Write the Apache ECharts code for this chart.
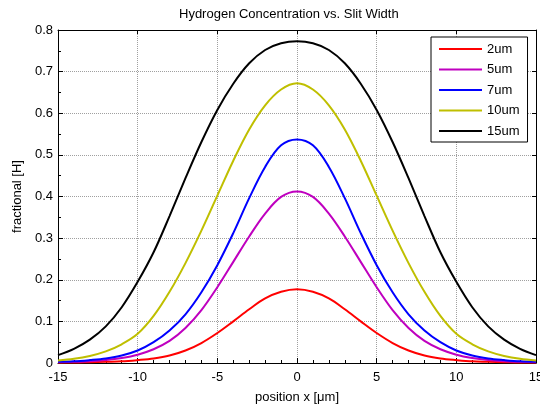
<!DOCTYPE html>
<html>
<head>
<meta charset="utf-8">
<script src="https://cdn.jsdelivr.net/npm/echarts@6/dist/echarts.min.js"></script>
<style>html,body{margin:0;padding:0;background:#fff}#c{width:540px;height:408px}</style>
</head>
<body>
<div id="c"></div>
<script>
const xs = [-15,-14,-13,-12,-11,-10,-9,-8,-7,-6,-5,-4,-3,-2,-1,0,1,2,3,4,5,6,7,8,9,10,11,12,13,14,15];
const seriesNames = ['2um','5um','7um','10um','15um'];
const seriesColors = ['#ff0000','#bf00bf','#0000ff','#bfbf00','#000000'];
const w2um = [0.001,0.001,0.002,0.003,0.004,0.007,0.011,0.018,0.030,0.048,0.072,0.100,0.129,0.155,0.171,0.177,0.171,0.155,0.129,0.100,0.072,0.048,0.030,0.018,0.011,0.007,0.004,0.003,0.002,0.001,0.001];
const w5um = [0.002,0.003,0.004,0.007,0.012,0.020,0.033,0.053,0.084,0.127,0.182,0.243,0.304,0.359,0.399,0.412,0.399,0.359,0.304,0.243,0.182,0.127,0.084,0.053,0.033,0.020,0.012,0.007,0.004,0.003,0.002];
const w7um = [0.003,0.004,0.007,0.011,0.018,0.030,0.050,0.078,0.117,0.170,0.235,0.312,0.396,0.471,0.523,0.537,0.523,0.471,0.396,0.312,0.235,0.170,0.117,0.078,0.050,0.030,0.018,0.011,0.007,0.004,0.003];
const w10um = [0.006,0.010,0.017,0.028,0.045,0.070,0.113,0.171,0.240,0.318,0.402,0.486,0.561,0.619,0.657,0.672,0.657,0.619,0.561,0.486,0.402,0.318,0.240,0.171,0.113,0.070,0.045,0.028,0.017,0.010,0.006];
const w15um = [0.019,0.034,0.056,0.088,0.134,0.195,0.266,0.353,0.444,0.531,0.608,0.671,0.720,0.752,0.768,0.773,0.768,0.752,0.720,0.671,0.608,0.531,0.444,0.353,0.266,0.195,0.134,0.088,0.056,0.034,0.019];
const allValues = [w2um, w5um, w7um, w10um, w15um];

const FONT = 'Liberation Sans, Arial, sans-serif';
const chart = echarts.init(document.getElementById('c'), null, {renderer: 'canvas'});

const series = allValues.map((vals, i) => ({
  name: seriesNames[i],
  type: 'line',
  xAxisIndex: 0,
  yAxisIndex: 0,
  data: xs.map((x, j) => [x, vals[j]]),
  smooth: 0.35,
  symbol: 'none',
  lineStyle: {color: seriesColors[i], width: 2},
  itemStyle: {color: seriesColors[i]},
  z: 3
}));

chart.setOption({
  animation: false,
  backgroundColor: '#fff',
  title: {
    text: 'Hydrogen Concentration vs. Slit Width',
    left: 174, top: 3,
    textStyle: {fontFamily: FONT, fontSize: 13, fontWeight: 'normal', color: '#000'}
  },
  grid: {left: 58, right: 4, top: 30, bottom: 45, containLabel: false, outerBoundsMode: 'none'},
  legend: {
    orient: 'vertical',
    left: 431, top: 37,
    data: seriesNames,
    icon: 'rect',
    itemWidth: 43, itemHeight: 2,
    itemGap: 6.5,
    padding: [5, 8, 4, 8],
    borderColor: '#000', borderWidth: 1,
    backgroundColor: '#fff',
    textStyle: {fontFamily: FONT, fontSize: 13, color: '#000', lineHeight: 14}
  },
  xAxis: [{
    type: 'value', min: -15, max: 15, interval: 5, position: 'bottom',
    axisLine: {show: true, onZero: false, lineStyle: {color: '#000', width: 1}},
    axisTick: {show: true, inside: true, length: 5, lineStyle: {color: '#000'}},
    minorTick: {show: true, splitNumber: 5, length: 3, lineStyle: {color: '#000'}},
    axisLabel: {fontFamily: FONT, fontSize: 13, color: '#000', margin: 8},
    splitLine: {show: true, lineStyle: {color: '#a0a0a0', type: 'dotted', width: 1}},
    name: 'position x [μm]', nameLocation: 'middle', nameGap: 28,
    nameTextStyle: {fontFamily: FONT, fontSize: 13, color: '#000'}
  }, {
    type: 'value', min: -15, max: 15, interval: 5, position: 'top',
    axisLine: {show: true, onZero: false, lineStyle: {color: '#000', width: 1}},
    axisTick: {show: true, inside: true, length: 4, lineStyle: {color: '#000'}},
    axisLabel: {show: false},
    splitLine: {show: false}
  }],
  yAxis: [{
    type: 'value', min: 0, max: 0.8, interval: 0.1, position: 'left',
    axisLine: {show: true, onZero: false, lineStyle: {color: '#000', width: 1}},
    axisTick: {show: true, inside: true, length: 5, lineStyle: {color: '#000'}},
    minorTick: {show: true, splitNumber: 2, length: 3, lineStyle: {color: '#000'}},
    axisLabel: {fontFamily: FONT, fontSize: 13, color: '#000', margin: 5,
      formatter: v => (v === 0 ? '0' : v.toFixed(1))},
    splitLine: {show: true, lineStyle: {color: '#a0a0a0', type: 'dotted', width: 1}},
    name: 'fractional [H]', nameLocation: 'middle', nameGap: 32,
    nameTextStyle: {fontFamily: FONT, fontSize: 13, color: '#000'}
  }, {
    type: 'value', min: 0, max: 0.8, interval: 0.1, position: 'right',
    axisLine: {show: true, onZero: false, lineStyle: {color: '#000', width: 1}},
    axisTick: {show: true, inside: true, length: 4, lineStyle: {color: '#000'}},
    axisLabel: {show: false},
    splitLine: {show: false}
  }],
  series: series
});
</script>
</body>
</html>
